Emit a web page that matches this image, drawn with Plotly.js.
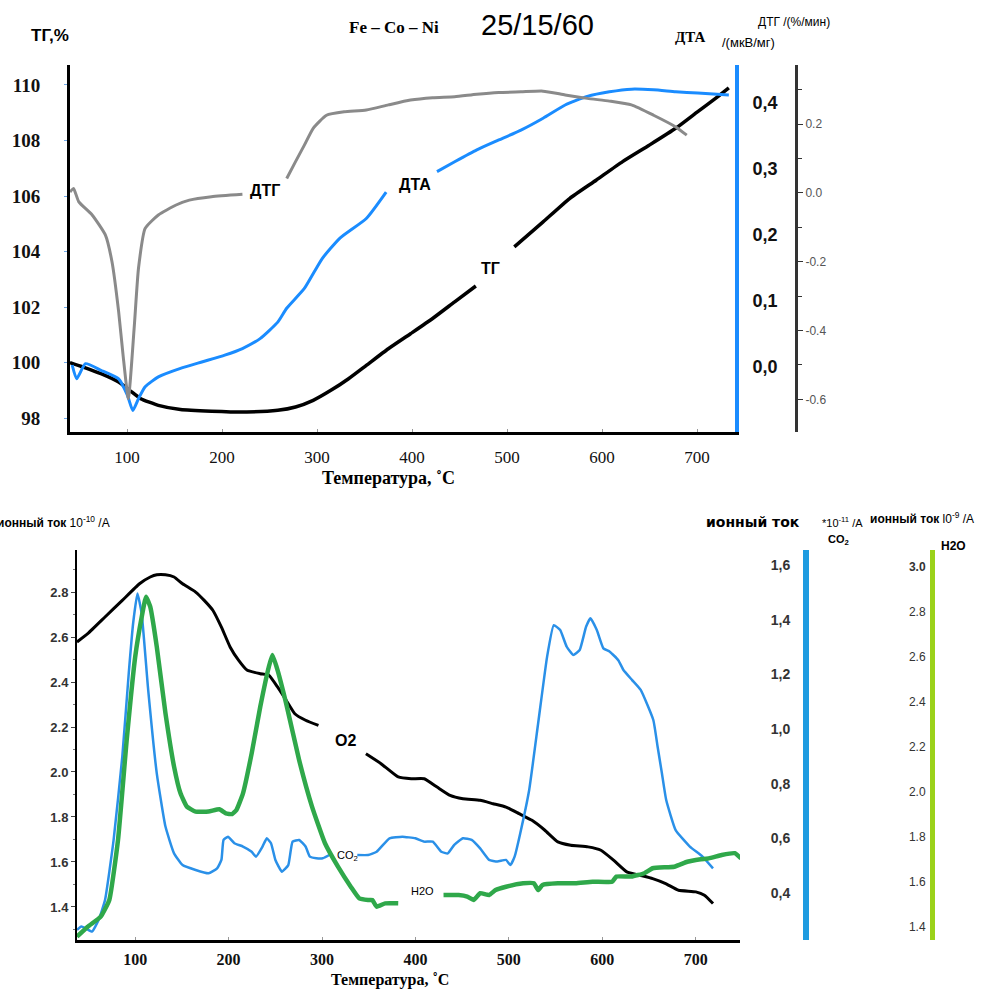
<!DOCTYPE html>
<html><head><meta charset="utf-8">
<script src="https://cdn.plot.ly/plotly-3.0.1.min.js"></script>
<style>html,body{margin:0;padding:0;background:#fff}#chart{width:995px;height:989px}</style>
</head><body><div id="chart"></div>
<script>
// ---------- top panel data (temperature, °C) ----------
const tgT = [40,54.0,72.6,91.2,102.8,114.4,133.0,156.3,188.9,226.1,258.7,277.4,296.0,314.6,333.2,351.9,375.1,398.4,421.7,444.9,467.2,null,507.7,538.0,565.9,593.8,621.7,649.6,677.6,700.8,719.5,733.5];
const tgVal = [100.0,99.84,99.6,99.3,99.0,98.7,98.46,98.31,98.25,98.22,98.28,98.4,98.64,99.0,99.42,99.9,100.5,101.04,101.59,102.19,102.76,null,104.17,105.07,105.91,106.57,107.24,107.83,108.44,109.04,109.52,109.9];

const dtaT = [42.3,47.0,56.3,72.6,91.2,100.5,106.1,112.1,119.1,133.0,156.3,179.6,202.9,221.5,240.1,258.7,268.1,286.7,305.3,323.9,351.9,372.8,null,426.3,444.9,468.2,491.4,514.7,538.0,561.2,584.5,607.8,631.0,654.3,677.6,700.8,733.5];
const dtaVal = [0.003,-0.018,0.005,-0.005,-0.018,-0.043,-0.066,-0.048,-0.030,-0.015,-0.002,0.008,0.018,0.028,0.043,0.068,0.089,0.119,0.164,0.195,0.225,0.265,null,0.296,0.311,0.329,0.344,0.359,0.377,0.397,0.410,0.417,0.421,0.420,0.417,0.415,0.412];

const dtgT = [40,43.7,49.3,63.3,77.2,84.2,91.2,95.8,101.4,107.5,112.1,119.1,133.0,151.7,165.6,188.9,221.5,null,268.1,277.4,286.7,296.0,310.0,328.6,351.9,375.1,398.4,421.7,444.9,468.2,491.4,514.7,538.0,561.2,584.5,607.8,631.0,654.3,677.6,689.2];
const dtgVal = [0.003,0.013,-0.026,-0.064,-0.122,-0.2,-0.345,-0.47,-0.598,-0.394,-0.219,-0.103,-0.064,-0.035,-0.021,-0.011,-0.004,null,0.042,0.091,0.139,0.188,0.226,0.236,0.241,0.256,0.270,0.277,0.280,0.287,0.292,0.294,0.296,0.285,0.275,0.267,0.256,0.226,0.192,0.168];

// ---------- bottom panel data ----------
const o2T = [37.7,49.2,67.7,86.2,104.6,116.1,123.1,132.4,141.6,150.7,164.7,173.9,183.1,192.3,201.6,210.8,220.0,233.9,243.1,252.4,261.6,270.9,282.4,296.2,null,347.0,363.2,381.6,395.5,409.4,423.2,437.1,450.9,469.3,483.2,497.0,510.9,524.8,538.6,552.5,566.3,584.8,598.6,612.4,626.3,640.2,654.0,667.9,681.7,700.2,709.4,718.6];
const o2Val = [2.578,2.615,2.689,2.763,2.837,2.867,2.877,2.877,2.867,2.837,2.8,2.763,2.719,2.644,2.556,2.496,2.452,2.437,2.43,2.378,2.319,2.259,2.23,2.207,null,2.081,2.037,1.978,1.97,1.97,1.933,1.896,1.881,1.874,1.859,1.844,1.815,1.785,1.741,1.689,1.674,1.667,1.652,1.607,1.556,1.541,1.526,1.504,1.474,1.467,1.452,1.415];

const co2T = [37.7,42.3,46.9,53.8,60.8,67.7,76.9,86.2,93.1,97.8,102.4,106.9,113.9,123.1,132.4,141.6,150.7,164.7,178.5,187.7,192.3,194.6,199.3,206.2,215.4,224.7,229.3,236.3,240.9,245.4,250.1,257.0,263.9,268.5,275.5,282.4,287.0,294.0,300.8,307.8,null,337.8,349.3,358.5,372.3,386.1,399.9,409.4,418.6,427.8,434.7,441.6,450.9,460.2,469.3,478.9,487.7,497.0,501.7,506.2,512.2,521.8,531.4,541.0,548.1,555.0,562.0,568.9,575.9,582.7,587.4,594.2,601.2,608.1,617.2,622.7,632.0,641.2,654.7,659.3,663.9,668.5,678.6,693.8,707.4,718.6];
const co2Val = [0.265,0.277,0.271,0.259,0.301,0.374,0.594,0.899,1.204,1.387,1.496,1.423,1.143,0.838,0.643,0.545,0.502,0.484,0.472,0.490,0.521,0.594,0.606,0.582,0.570,0.551,0.533,0.570,0.600,0.582,0.521,0.478,0.502,0.588,0.594,0.570,0.533,0.527,0.527,0.539,null,0.539,0.539,0.551,0.600,0.606,0.600,0.588,0.588,0.551,0.545,0.576,0.600,0.594,0.563,0.521,0.515,0.521,0.502,0.533,0.618,0.777,1.021,1.265,1.380,1.362,1.301,1.271,1.289,1.374,1.405,1.362,1.295,1.283,1.252,1.216,1.179,1.143,1.033,0.935,0.838,0.740,0.630,0.570,0.533,0.490];

const h2oT = [37.7,49.2,63.1,72.3,81.6,90.9,100.0,107.0,111.6,116.1,123.1,132.4,141.6,148.5,155.3,164.7,178.5,190.1,197.0,203.8,208.4,215.4,224.7,233.9,243.1,246.9,252.4,261.6,275.5,289.3,303.2,317.1,330.8,339.9,349.3,353.9,358.5,367.7,381.6,null,430.1,446.3,455.5,462.4,469.3,478.9,485.8,497.0,515.4,526.8,531.4,536.1,552.5,571.3,589.7,610.5,615.2,631.2,645.1,654.0,677.1,691.0,700.2,714.0,727.9,741.8,748.6];
const h2oVal = [1.357,1.401,1.446,1.52,1.787,2.231,2.601,2.779,2.868,2.824,2.646,2.35,2.113,1.994,1.935,1.913,1.913,1.923,1.905,1.902,1.92,1.994,2.172,2.379,2.557,2.609,2.542,2.394,2.142,1.935,1.772,1.668,1.579,1.527,1.52,1.52,1.49,1.505,1.505,null,1.542,1.542,1.535,1.52,1.55,1.542,1.564,1.579,1.594,1.594,1.564,1.587,1.594,1.594,1.601,1.601,1.624,1.624,1.639,1.661,1.668,1.69,1.698,1.705,1.72,1.728,1.705];

// ---------- tick labels ----------
const tempTicks = [100,200,300,400,500,600,700];
const tgTicks = [98,100,102,104,106,108,110];
const dtaTicks = [0,0.1,0.2,0.3,0.4];
const dtaTickText = ['0,0','0,1','0,2','0,3','0,4'];
const dtgTicks = [-0.6,-0.4,-0.2,0.0,0.2];
const dtgTickText = ['-0.6','-0.4','-0.2','0.0','0.2'];
const o2Ticks = [1.4,1.6,1.8,2.0,2.2,2.4,2.6,2.8];
const o2TickText = ['1.4','1.6','1.8','2.0','2.2','2.4','2.6','2.8'];
const co2Ticks = [0.4,0.6,0.8,1.0,1.2,1.4,1.6];
const co2TickText = ['0,4','0,6','0,8','1,0','1,2','1,4','1,6'];
const h2oTicks = [1.4,1.6,1.8,2.0,2.2,2.4,2.6,2.8,3.0];
const h2oTickText = ['1.4','1.6','1.8','2.0','2.2','2.4','2.6','2.8','<b>3.0</b>'];

const W = 995, H = 989;
const px = x => x / W;
const py = y => 1 - y / H;

const SERIF = 'Liberation Serif, Times New Roman, serif';
const SANS = 'Liberation Sans, Arial, sans-serif';
const DJV = 'DejaVu Sans, Verdana, sans-serif';

const traces = [
  {x: dtgT, y: dtgVal, xaxis: 'x', yaxis: 'y3', mode: 'lines', line: {color: '#8a8a8a', width: 3, shape: 'spline', smoothing: 0.5}, connectgaps: false, hoverinfo: 'skip'},
  {x: dtaT, y: dtaVal, xaxis: 'x', yaxis: 'y2', mode: 'lines', line: {color: '#1a8cff', width: 3, shape: 'spline', smoothing: 0.5}, connectgaps: false, hoverinfo: 'skip'},
  {x: tgT, y: tgVal, xaxis: 'x', yaxis: 'y', mode: 'lines', line: {color: '#000000', width: 3.5, shape: 'spline', smoothing: 0.5}, connectgaps: false, hoverinfo: 'skip'},
  {x: o2T, y: o2Val, xaxis: 'x2', yaxis: 'y4', mode: 'lines', line: {color: '#000000', width: 3, shape: 'spline', smoothing: 0.4}, connectgaps: false, hoverinfo: 'skip'},
  {x: co2T, y: co2Val, xaxis: 'x2', yaxis: 'y5', mode: 'lines', line: {color: '#2a90e8', width: 2.5, shape: 'spline', smoothing: 0.4}, connectgaps: false, hoverinfo: 'skip'},
  {x: h2oT, y: h2oVal, xaxis: 'x2', yaxis: 'y6', mode: 'lines', line: {color: '#2fa84a', width: 4.5, shape: 'spline', smoothing: 0.4}, connectgaps: false, hoverinfo: 'skip'}
];

const ann = (x, y, text, size, family, opts) => Object.assign({
  x: px(x), y: py(y), xref: 'paper', yref: 'paper', text: text, showarrow: false,
  font: {size: size, family: family, color: '#000'}, xanchor: 'center', yanchor: 'middle'
}, opts || {});

const layout = {
  width: W, height: H,
  margin: {l: 0, r: 0, t: 0, b: 0, pad: 0},
  paper_bgcolor: '#fff', plot_bgcolor: 'rgba(0,0,0,0)',
  showlegend: false,
  xaxis: {
    domain: [px(70), px(735)], anchor: 'y', range: [40, 740],
    tickvals: tempTicks, showgrid: false, zeroline: false,
    showline: true, linecolor: '#000', linewidth: 3,
    ticks: 'inside', ticklen: 3, tickcolor: '#999',
    ticklabelstandoff: 8,
    tickfont: {family: SERIF, size: 17, color: '#111'}
  },
  yaxis: {
    domain: [py(432), py(65)], anchor: 'x', range: [97.5, 110.72],
    tickvals: tgTicks, showgrid: false, zeroline: false,
    showline: true, linecolor: '#000', linewidth: 3,
    ticks: 'outside', ticklen: 3, tickcolor: '#6fa8e8',
    ticklabelstandoff: 20,
    tickfont: {family: SERIF, size: 19, color: '#111', weight: 'bold'}
  },
  yaxis2: {
    overlaying: 'y', anchor: 'x', side: 'right', range: [-0.0985, 0.4576],
    tickvals: dtaTicks, ticktext: dtaTickText, showgrid: false, zeroline: false,
    showline: true, linecolor: '#1a8cff', linewidth: 4,
    ticks: '', ticklabelstandoff: 10,
    tickfont: {family: SANS, size: 18, color: '#111', weight: 'bold'}
  },
  yaxis3: {
    overlaying: 'y', anchor: 'free', position: px(796), side: 'right', range: [-0.695, 0.372],
    tickvals: dtgTicks, ticktext: dtgTickText, showgrid: false, zeroline: false,
    showline: true, linecolor: '#333', linewidth: 3,
    ticks: 'outside', ticklen: 5, tickcolor: '#333',
    minor: {dtick: 0.1, ticks: 'outside', ticklen: 4, tickcolor: '#333'},
    tickfont: {family: SANS, size: 12, color: '#555'}
  },
  xaxis2: {
    domain: [px(77), px(740)], anchor: 'y4', range: [37.7, 747.5],
    tickvals: tempTicks, showgrid: false, zeroline: false,
    showline: true, linecolor: '#000', linewidth: 3,
    ticks: 'inside', ticklen: 3, tickcolor: '#999',
    ticklabelstandoff: 3,
    tickfont: {family: SERIF, size: 16, color: '#111', weight: 'bold'}
  },
  yaxis4: {
    domain: [py(940), py(550)], anchor: 'x2', range: [1.253, 2.987],
    tickvals: o2Ticks, ticktext: o2TickText, showgrid: false, zeroline: false,
    showline: true, linecolor: '#000', linewidth: 2,
    ticks: 'outside', ticklen: 4, tickcolor: '#444',
    minor: {dtick: 0.1, ticks: 'outside', ticklen: 2, tickcolor: '#777'},
    tickfont: {family: SANS, size: 13, color: '#333', weight: 'bold'}
  },
  yaxis5: {
    overlaying: 'y4', anchor: 'free', position: px(806), side: 'left', range: [0.228, 1.655],
    tickvals: co2Ticks, ticktext: co2TickText, showgrid: false, zeroline: false,
    showline: true, linecolor: '#1e9be0', linewidth: 6,
    ticks: '', ticklabelstandoff: 10,
    tickfont: {family: SANS, size: 14, color: '#333', weight: 'bold'}
  },
  yaxis6: {
    overlaying: 'y4', anchor: 'free', position: px(932), side: 'left', range: [1.342, 3.076],
    tickvals: h2oTicks, ticktext: h2oTickText, showgrid: false, zeroline: false,
    showline: true, linecolor: '#9bd21a', linewidth: 5,
    ticks: '', ticklabelstandoff: 2,
    tickfont: {family: SANS, size: 12, color: '#333'}
  },
  annotations: [
    ann(50, 35, '<b>ТГ,%</b>', 17, SANS),
    ann(394, 27, '<b>Fe – Co – Ni</b>', 17, SERIF),
    ann(537, 25, '25/15/60', 29, SANS),
    ann(690, 37, '<b>ДТА</b>', 15, SERIF),
    ann(794, 22, 'ДТГ /(%/мин)', 12, SANS),
    ann(748, 42, '/(мкВ/мг)', 13, SANS),
    ann(265, 190, '<b>ДТГ</b>', 16, SANS),
    ann(415, 185, '<b>ДТА</b>', 16, SANS),
    ann(490, 268, '<b>ТГ</b>', 16, SANS),
    ann(388, 478, '<b>Температура, ˚С</b>', 18, SERIF),
    ann(-5, 522, '<b>ионный ток</b> 10<sup>-10</sup> /А', 12, SANS, {xanchor: 'left'}),
    ann(704, 522, '<b>ионный ток</b>', 14, DJV, {xanchor: 'left'}),
    ann(820, 522, '*10<sup>-11</sup> /А', 11, SANS, {xanchor: 'left'}),
    ann(838, 540, '<b>CO<sub>2</sub></b>', 11, SANS),
    ann(868, 518, '<b>ионный ток</b> l0<sup>-9</sup> /А', 12, SANS, {xanchor: 'left'}),
    ann(953, 546, '<b>H2O</b>', 12, SANS),
    ann(345, 740, '<b>O2</b>', 16, SANS),
    ann(347, 856, 'CO<sub>2</sub>', 11, SANS),
    ann(422, 891, 'H2O', 11, SANS),
    ann(390, 980, '<b>Температура, ˚С</b>', 16, SERIF)
  ]
};

Plotly.newPlot('chart', traces, layout, {displayModeBar: false, staticPlot: true});
</script>
</body></html>
